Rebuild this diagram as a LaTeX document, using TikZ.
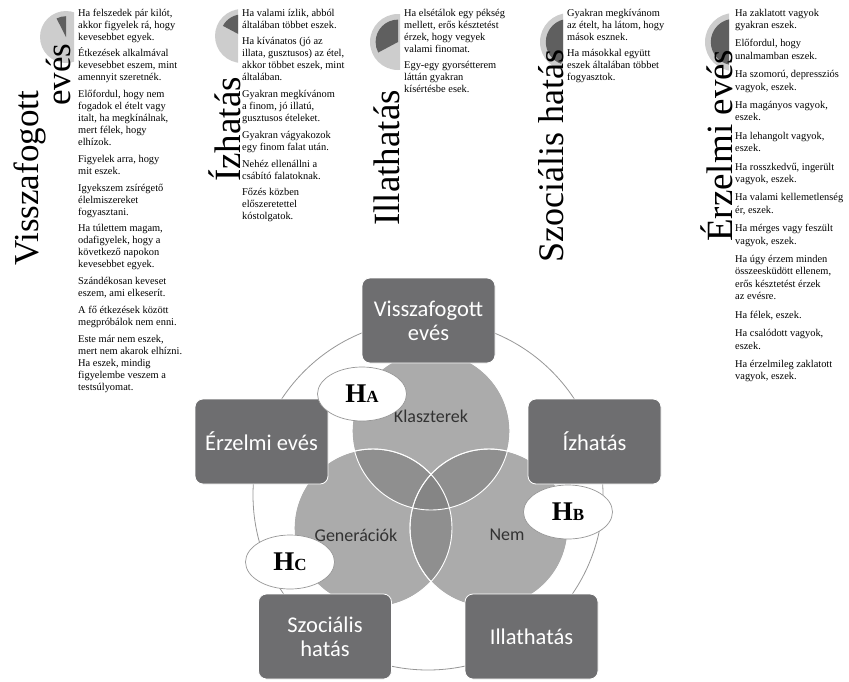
\documentclass[tikz,border=0pt]{standalone}
\usepackage{fontspec}
\setmainfont{Liberation Serif}
\newfontfamily\carl{Carlito}
\usetikzlibrary{shapes.geometric}
\definecolor{boxgray}{RGB}{110,110,112}
\definecolor{ringgray}{RGB}{150,150,150}
\definecolor{iconlight}{RGB}{205,205,205}
\definecolor{icondark}{RGB}{95,95,95}
\definecolor{labelgray}{RGB}{50,50,50}
\newcommand\pieicon[6]{%
  \begin{scope}
    \clip (#1-40,#2-40) rectangle (#6,#2+40);
    \fill[iconlight] (#1,#2) circle[radius=#3pt];
    \fill[icondark] (#1,#2) -- ++(#4:#3*0.8pt) arc[start angle=#4, end angle=#5, radius=#3*0.8pt] -- cycle;
  \end{scope}}
\tikzset{
  coltext/.style={anchor=base west, inner sep=0pt},
  title/.style={rotate=90, anchor=base west, inner sep=0pt, font=\fontsize{37}{40}\selectfont},
  factor/.style={draw=white, line width=0.8pt, rounded corners=8pt, fill=boxgray, text=white,
    minimum width=133pt, minimum height=85pt, align=center, font=\carl\fontsize{22.5}{24}\selectfont},
  venn/.style={fill=black!50, fill opacity=0.66, draw=white, line width=0.9pt},
  vlabel/.style={text=labelgray, font=\carl\fontsize{18}{20}\selectfont},
  hyp/.style={ellipse, draw=ringgray, line width=0.7pt, fill=white, minimum width=89pt, minimum height=54pt, inner sep=0pt}
}
\begin{document}
\begin{tikzpicture}[x=1pt,y=-1pt]
\useasboundingbox (0,0) rectangle (849,681);
% ---------- top panel: icons ----------
\pieicon{66}{37}{26}{90}{117}{74}
\pieicon{242}{36}{27}{90}{152}{238}
\pieicon{398}{42}{28}{90}{208}{400}
\pieicon{569}{42}{29}{90}{250}{563}
\pieicon{734}{42}{29}{90}{270}{729}
% ---------- rotated titles ----------
\node[title, font=\fontsize{35}{38}\selectfont] (t1a) at (38,266) {Visszafogott};
\node[title, font=\fontsize{35}{38}\selectfont] (t1b) at (70,106) {evés};
\node[title] (t2) at (240,182) {Ízhatás};
\node[title] (t3) at (399,226) {Illathatás};
\node[title, font=\fontsize{36}{39}\selectfont] (t4) at (563,263) {Szociális hatás};
\node[title] (t5) at (732,242) {Érzelmi evés};
% ---------- text columns ----------
\node[coltext] (c1) at (78,16) {\begin{minipage}[t]{130pt}\fontsize{10.4}{12}\selectfont\raggedright\setlength\parskip{4.75pt}%
Ha felszedek pár kilót,\\akkor figyelek rá, hogy\\kevesebbet egyek.\par
Étkezések alkalmával\\kevesebbet eszem, mint\\amennyit szeretnék.\par
Előfordul, hogy nem\\fogadok el ételt vagy\\italt, ha megkínálnak,\\mert félek, hogy\\elhízok.\par
Figyelek arra, hogy\\mit eszek.\par
Igyekszem zsírégető\\élelmiszereket\\fogyasztani.\par
Ha túlettem magam,\\odafigyelek, hogy a\\következő napokon\\kevesebbet egyek.\par
Szándékosan keveset\\eszem, ami elkeserít.\par
A fő étkezések között\\megpróbálok nem enni.\par
Este már nem eszek,\\mert nem akarok elhízni.\\Ha eszek, mindig\\figyelembe veszem a\\testsúlyomat.\end{minipage}};
\node[coltext] (c2) at (242,16) {\begin{minipage}[t]{130pt}\fontsize{10.4}{12}\selectfont\raggedright\setlength\parskip{4.75pt}%
Ha valami ízlik, abból\\általában többet eszek.\par
Ha kívánatos (jó az\\illata, gusztusos) az étel,\\akkor többet eszek, mint\\általában.\par
Gyakran megkívánom\\a finom, jó illatú,\\gusztusos ételeket.\par
Gyakran vágyakozok\\egy finom falat után.\par
Nehéz ellenállni a\\csábító falatoknak.\par
Főzés közben\\előszeretettel\\kóstolgatok.\end{minipage}};
\node[coltext] (c3) at (404,16) {\begin{minipage}[t]{130pt}\fontsize{10.4}{12}\selectfont\raggedright\setlength\parskip{4.75pt}%
Ha elsétálok egy pékség\\mellett, erős késztetést\\érzek, hogy vegyek\\valami finomat.\par
Egy-egy gyorsétterem\\láttán gyakran\\kísértésbe esek.\end{minipage}};
\node[coltext] (c4) at (567,16) {\begin{minipage}[t]{130pt}\fontsize{10.4}{12}\selectfont\raggedright\setlength\parskip{4.75pt}%
Gyakran megkívánom\\az ételt, ha látom, hogy\\mások esznek.\par
Ha másokkal együtt\\eszek általában többet\\fogyasztok.\end{minipage}};
\node[coltext] (c5) at (735,16) {\begin{minipage}[t]{130pt}\fontsize{10.4}{12.5}\selectfont\raggedright\setlength\parskip{5.8pt}%
Ha zaklatott vagyok\\gyakran eszek.\par
Előfordul, hogy\\unalmamban eszek.\par
Ha szomorú, depressziós\\vagyok, eszek.\par
Ha magányos vagyok,\\eszek.\par
Ha lehangolt vagyok,\\eszek.\par
Ha rosszkedvű, ingerült\\vagyok, eszek.\par
Ha valami kellemetlenség\\ér, eszek.\par
Ha mérges vagy feszült\\vagyok, eszek.\par
Ha úgy érzem minden\\összeesküdött ellenem,\\erős késztetést érzek\\az evésre.\par
Ha félek, eszek.\par
Ha csalódott vagyok,\\eszek.\par
Ha érzelmileg zaklatott\\vagyok, eszek.\end{minipage}};
% ---------- bottom diagram ----------
\coordinate (ctr) at (428,495);
\draw[ringgray, line width=0.8pt] (ctr) circle[radius=175pt];
\fill[venn] (431,431) circle[radius=79pt];
\fill[venn] (373,528) circle[radius=79pt];
\fill[venn] (489,528) circle[radius=79pt];
\draw[white, line width=0.9pt] (431,431) circle[radius=79pt];
\draw[white, line width=0.9pt] (373,528) circle[radius=79pt];
\draw[white, line width=0.9pt] (489,528) circle[radius=79pt];
\node[vlabel] (kl) at (431,416) {Klaszterek};
\node[vlabel] (ge) at (356,535) {Generációk};
\node[vlabel] (ne) at (507,535) {Nem};
\node[factor] (ve) at (428.5,320.5) {Visszafogott\\evés};
\node[factor] (ee) at (261.5,441.5) {Érzelmi evés};
\node[factor] (iz) at (594.5,441.5) {Ízhatás};
\node[factor] (sz) at (325,636.5) {Szociális\\hatás};
\node[factor] (il) at (531.5,636.5) {Illathatás};
\node[hyp] (ha) at (362,394) {\bfseries\fontsize{27}{27}\selectfont H\fontsize{17}{17}\selectfont A};
\node[hyp] (hb) at (568,512) {\bfseries\fontsize{27}{27}\selectfont H\fontsize{17}{17}\selectfont B};
\node[hyp] (hc) at (290,562) {\bfseries\fontsize{27}{27}\selectfont H\fontsize{17}{17}\selectfont C};
\end{tikzpicture}
\end{document}
